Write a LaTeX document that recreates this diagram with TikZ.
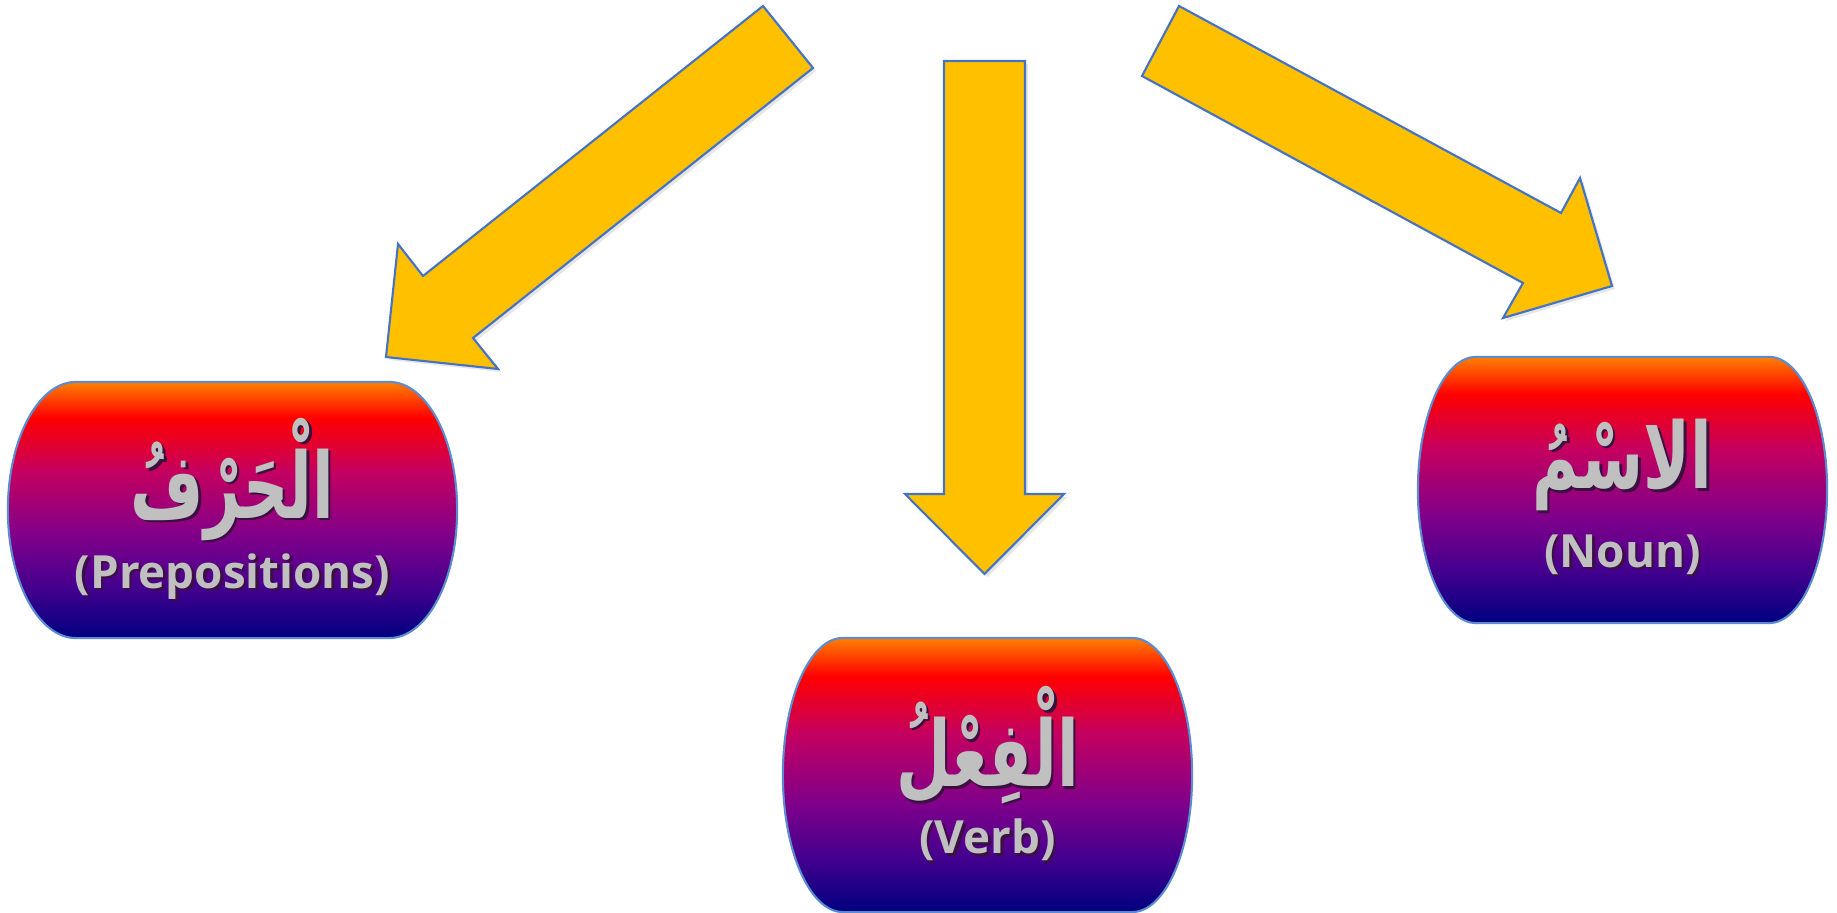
\documentclass[tikz,border=0pt]{standalone}
\usepackage{fontspec}
\usetikzlibrary{backgrounds,shadows}
\TeXXeTstate=1
\newfontfamily\arabicfont[Script=Arabic]{DejaVu Sans}
\newfontfamily\engfont{Open Sans}
\definecolor{arrowgold}{HTML}{FFC000}
\definecolor{arrowedge}{HTML}{4472C4}
\definecolor{boxedge}{HTML}{5B8BD0}
\definecolor{labelgray}{HTML}{C0C0C0}
\definecolor{txtshade}{HTML}{3A1040}
\definecolor{bxorange}{HTML}{FF8000}
\definecolor{bxred}{HTML}{FF0000}
\definecolor{bxcrimson}{HTML}{C40060}
\definecolor{bxpurple}{HTML}{80008A}
\definecolor{bxindigo}{HTML}{44008E}
\definecolor{bxnavy}{HTML}{000080}
\pgfdeclareverticalshading{boxfade}{100bp}{color(0bp)=(bxnavy); color(25bp)=(bxnavy); color(35bp)=(bxindigo); color(45bp)=(bxpurple); color(57.5bp)=(bxcrimson); color(68bp)=(bxred); color(75bp)=(bxorange); color(100bp)=(bxorange)}
\newcommand{\shtxt}[1]{\leavevmode\rlap{\kern0.7pt\raisebox{-0.7pt}{\color{txtshade}#1}}{#1}}
\newcommand{\arword}[1]{\shtxt{\scalebox{0.69}[1]{\arabicfont\bfseries\fontsize{26}{30}\selectfont\beginR#1\endR}}}
\begin{document}
\begin{tikzpicture}[x=0.01cm, y=0.01cm]
  \tikzstyle{wordbox} = [rectangle, minimum width=4.09cm, minimum height=2.66cm, inner sep=0pt, outer sep=0pt, text=labelgray, align=center, font=\engfont\bfseries\fontsize{13}{16}\selectfont]
  \tikzstyle{blockarrow} = [fill=arrowgold, draw=arrowedge, line width=0.6pt, line join=miter, drop shadow={opacity=0.2, shadow xshift=0.03cm, shadow yshift=-0.03cm}]
  \useasboundingbox (0,0) rectangle (1837,913);

  \node (harf) [wordbox, minimum width=4.49cm, minimum height=2.56cm] at (232.5,403) {\arword{الْحَرْفُ}\\[2pt]\shtxt{(Prepositions)}};
  \node (fil) [wordbox, minimum height=2.74cm] at (987.5,138) {\arword{الْفِعْلُ}\\[3pt]\shtxt{(Verb)}};
  \node (ism) [wordbox] at (1622.5,415) {\arword{الاسْمُ}\\[5pt]\shtxt{(Noun)}};

  \begin{pgfonlayer}{background}
    \foreach \n/\r/\h/\s in {harf/0.68/1.28/0, fil/0.6/1.37/0, ism/0.58/1.33/0.08}
      \shadedraw[shading=boxfade, draw=boxedge, line width=0.6pt]
        ([xshift=\r cm, yshift=\s cm]\n.north west) -- ([xshift=-\r cm, yshift=\s cm]\n.north east)
        arc[start angle=90, end angle=-90, x radius=\r cm, y radius=\h cm]
        -- ([xshift=\r cm, yshift=\s cm]\n.south west)
        arc[start angle=270, end angle=90, x radius=\r cm, y radius=\h cm] -- cycle;
  \end{pgfonlayer}

  % arrows pointing down to the three kinds of words
  \draw [blockarrow] (763,907) -- (813,845) -- (473,575) -- (498,544) -- (386,556) -- (398,669) -- (423,637) -- cycle;
  \draw [blockarrow] (944,852) -- (1025,852) -- (1025,419) -- (1064,419) -- (984.5,339) -- (905,419) -- (944,419) -- cycle;
  \draw [blockarrow] (1179,907) -- (1561,700) -- (1580,735) -- (1612,627) -- (1503,595) -- (1523,630) -- (1142,837) -- cycle;
\end{tikzpicture}
\end{document}
